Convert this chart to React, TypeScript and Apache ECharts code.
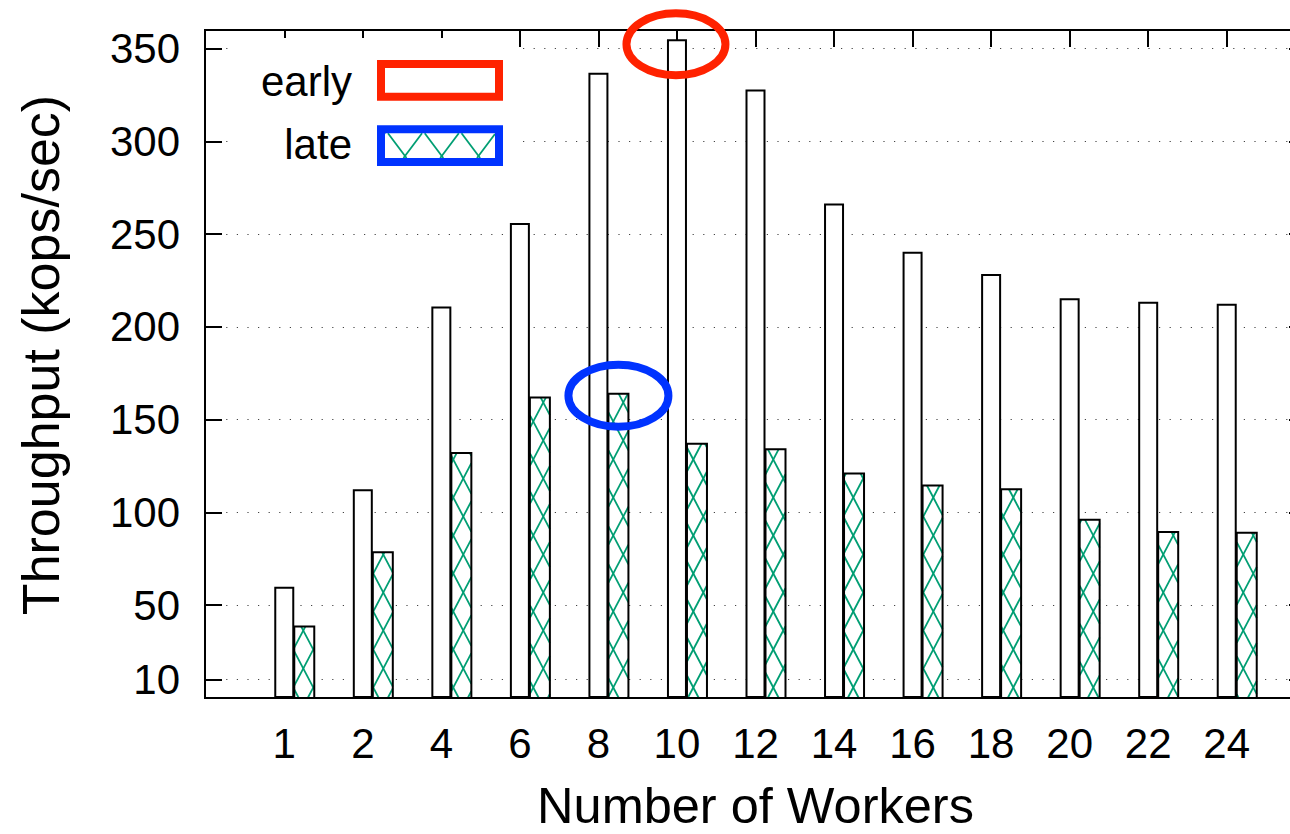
import React, { useEffect, useRef } from 'react';
import * as echarts from 'echarts';

// ---- data ----
const workers = ['1', '2', '4', '6', '8', '10', '12', '14', '16', '18', '20', '22', '24'];
const early = [60, 112.5, 211, 256, 337, 355, 328, 266.5, 240.5, 228.5, 215.5, 213.5, 212.5];
const late = [38.5, 78.5, 132, 162, 164, 137, 134, 121, 114.5, 112.5, 96, 89.5, 89];
const yTicks = [10, 50, 100, 150, 200, 250, 300, 350];
const legendNames = ['early', 'late'];
const Y_MIN = 0;
const Y_MAX = 360;

// ---- styles ----
const FONT = 'Liberation Sans';
const HATCH = '#009e73';
const RED = '#ff2200';
const BLUE = '#0033ff';
const BAR_W = 20;

function hatchLines(
  xL: number, xR: number, yT: number, yB: number,
  s: number, P: number, cA: number, cB: number, style: any, z?: number
) {
  const out: any[] = [];
  const fams: [number, number][] = [[-s, cA], [s, cB]];
  for (const [m, c0] of fams) {
    const cs = [[xL, yT], [xR, yT], [xL, yB], [xR, yB]].map(([x, y]) => y - m * x);
    const cmin = Math.min(...cs);
    const cmax = Math.max(...cs);
    const k0 = Math.ceil((cmin - c0) / P);
    const k1 = Math.floor((cmax - c0) / P);
    for (let k = k0; k <= k1; k++) {
      const c = c0 + k * P;
      let xa = (yT - c) / m;
      let xb = (yB - c) / m;
      if (xa > xb) { const t = xa; xa = xb; xb = t; }
      const x1 = Math.max(xa, xL);
      const x2 = Math.min(xb, xR);
      if (x2 - x1 > 0.01) {
        const el: any = { type: 'line', shape: { x1, y1: m * x1 + c, x2, y2: m * x2 + c }, style };
        if (z !== undefined) el.z = z;
        out.push(el);
      }
    }
  }
  return out;
}

export default function App() {
  const ref = useRef<HTMLDivElement>(null);

  useEffect(() => {
    if (!ref.current) return;
    const chart = echarts.init(ref.current, undefined, { renderer: 'svg' });
    const tickStyle = { color: '#000', width: 2 };
    chart.setOption({
      animation: false,
      backgroundColor: '#fff',
      textStyle: { fontFamily: FONT, color: '#000' },
      grid: [
        { left: 205, top: 30, right: 4, bottom: 136, show: true, borderColor: '#000', borderWidth: 2, backgroundColor: 'transparent', outerBoundsMode: 'none', containLabel: false },
        { left: 245, top: 30, right: 44, bottom: 136, show: false, outerBoundsMode: 'none', containLabel: false },
      ],
      xAxis: [
        { gridIndex: 0, type: 'value', min: 0, max: 1, show: false },
        {
          gridIndex: 1, type: 'category', data: workers, position: 'bottom',
          axisLine: { show: false }, axisTick: { show: false },
          axisLabel: { interval: 0, fontSize: 42, margin: 24, color: '#000', fontFamily: FONT },
          name: 'Number of Workers', nameLocation: 'middle', nameGap: 87,
          nameTextStyle: { fontSize: 50.5, lineHeight: 40, color: '#000', fontFamily: FONT },
        },
        {
          gridIndex: 1, type: 'category', data: workers, position: 'top',
          axisLine: { show: false },
          axisTick: { show: true, inside: true, length: 17, alignWithLabel: true, interval: 0, lineStyle: tickStyle },
          axisLabel: { show: false },
        },
      ],
      yAxis: [
        {
          gridIndex: 0, type: 'value', min: Y_MIN, max: Y_MAX,
          axisLine: { show: false },
          axisTick: { show: true, inside: true, length: 17, customValues: yTicks, lineStyle: tickStyle },
          axisLabel: { customValues: yTicks, fontSize: 42, margin: 25, color: '#000', fontFamily: FONT, padding: [5, 0, 0, 0] },
          splitLine: { show: true, lineStyle: { type: [1.2, 9.4], color: '#444', width: 1.2 } },
          name: 'Throughput (kops/sec)', nameLocation: 'middle', nameGap: 138,
          nameTextStyle: { fontSize: 52, color: '#000', fontFamily: FONT, padding: [0, 0, 0, 18] },
        },
        {
          gridIndex: 0, type: 'value', min: Y_MIN, max: Y_MAX, position: 'right',
          axisLine: { show: false },
          axisTick: { show: true, inside: true, length: 17, customValues: yTicks, lineStyle: tickStyle },
          axisLabel: { show: false }, splitLine: { show: false },
        },
        { gridIndex: 1, type: 'value', min: Y_MIN, max: Y_MAX, show: false },
      ],
      series: [
        {
          type: 'bar', name: legendNames[0], xAxisIndex: 1, yAxisIndex: 2,
          data: early, barWidth: BAR_W, silent: true,
          itemStyle: { color: '#fff', borderColor: '#000', borderWidth: 2 },
        },
        {
          type: 'custom', name: legendNames[1], xAxisIndex: 1, yAxisIndex: 2,
          data: late.map((v, i) => [i, v]), encode: { x: 0, y: 1 }, silent: true,
          renderItem: (params: any, api: any) => {
            const idx = api.value(0);
            const top = api.coord([idx, api.value(1)]);
            const base = api.coord([idx, Y_MIN]);
            const xL = top[0] + BAR_W / 2;
            const xR = xL + BAR_W;
            const yT = top[1];
            const yB = base[1];
            return {
              type: 'group',
              children: [
                { type: 'rect', shape: { x: xL, y: yT, width: BAR_W, height: yB - yT }, style: { fill: '#fff' } },
                ...hatchLines(xL, xR, yT, yB, 1.9, 38, 28.7, 16.3, { stroke: HATCH, lineWidth: 1.8 }),
                { type: 'rect', shape: { x: xL, y: yT, width: BAR_W, height: yB - yT }, style: { fill: 'none', stroke: '#000', lineWidth: 2 } },
              ],
            };
          },
        },
      ],
    });

    // annotations positioned from data via the chart's own scales
    const i10 = workers.indexOf('10');
    const i8 = workers.indexOf('8');
    const pRed = chart.convertToPixel({ gridIndex: 1 }, [i10, early[i10]]) as number[];
    const pBlue = chart.convertToPixel({ gridIndex: 1 }, [i8, late[i8]]) as number[];

    const txt = (text: string, y: number) => ({
      type: 'text', z: 10, x: 352, y,
      style: { text, fontSize: 42, fontFamily: FONT, fill: '#000', align: 'right', verticalAlign: 'middle' },
    });

    const legendHatch = hatchLines(385, 495, 133.3, 158, 1.33, 48.9, 10, 8.5, { stroke: HATCH, lineWidth: 1.8 }, 11)
      .map((el, i) => ({ ...el, id: 'lh' + i }));

    chart.setOption({
      graphic: [
        { id: 'keybg', type: 'rect', z: 1, shape: { x: 230, y: 38, width: 288, height: 138 }, style: { fill: '#fff' } },
        { id: 't1', ...txt(legendNames[0], 81) },
        { id: 't2', ...txt(legendNames[1], 144) },
        { id: 's1', type: 'rect', z: 10, shape: { x: 381, y: 64, width: 118, height: 32.7 }, style: { fill: '#fff', stroke: RED, lineWidth: 8 } },
        { id: 's2bg', type: 'rect', z: 10, shape: { x: 381, y: 129.3, width: 118, height: 32.7 }, style: { fill: '#fff' } },
        ...legendHatch,
        { id: 's2', type: 'rect', z: 12, shape: { x: 381, y: 129.3, width: 118, height: 32.7 }, style: { fill: 'none', stroke: BLUE, lineWidth: 8 } },
        { id: 'e1', type: 'ellipse', z: 20, shape: { cx: pRed[0] - 1, cy: pRed[1] + 5, rx: 49.5, ry: 31 }, style: { fill: 'none', stroke: RED, lineWidth: 8 } },
        { id: 'e2', type: 'ellipse', z: 20, shape: { cx: pBlue[0] + BAR_W, cy: pBlue[1] + 2, rx: 50, ry: 31 }, style: { fill: 'none', stroke: BLUE, lineWidth: 8 } },
      ],
    });

    return () => chart.dispose();
  }, []);

  return (
    <div style={{ position: 'absolute', left: 0, top: 0, width: 1290, height: 834, overflow: 'hidden', background: '#fff' }}>
      <div ref={ref} style={{ width: 1310, height: 834 }} />
    </div>
  );
}
